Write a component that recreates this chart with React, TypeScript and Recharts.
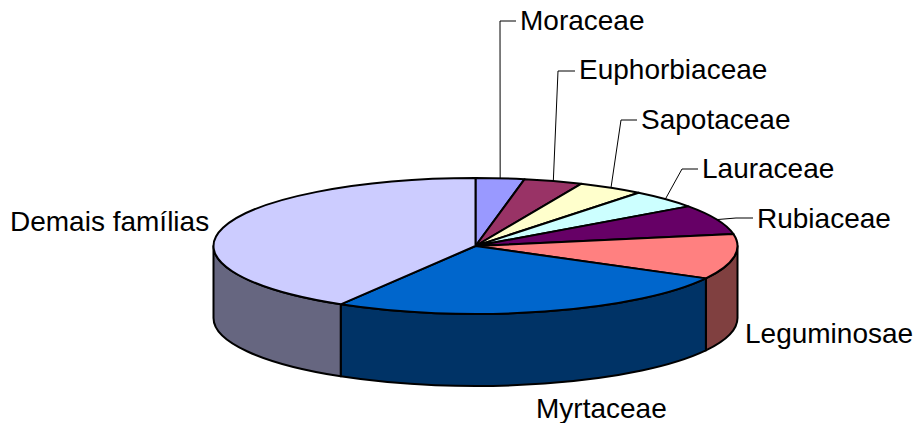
import { PieChart, Pie } from 'recharts';

const families = ['Moraceae', 'Euphorbiaceae', 'Sapotaceae', 'Lauraceae', 'Rubiaceae', 'Leguminosae', 'Myrtaceae', 'Demais famílias'];
const shares = [3.0, 3.6, 4.1, 4.4, 7.1, 10.7, 25.7, 41.4];
const topColors = ['#9999FF', '#993366', '#FFFFCC', '#CCFFFF', '#660066', '#FF8080', '#0066CC', '#CCCCFF'];
const sideColors = ['#4D4D80', '#4D1A33', '#808066', '#668080', '#330033', '#804040', '#003366', '#666680'];

// text start, baseline and the elbow of the leader line (null: no leader)
const labelSpots: { x: number; y: number; elbow: number[] | null; tail?: number }[] = [
  { x: 520, y: 30, elbow: [500, 21], tail: 516 },
  { x: 579, y: 79, elbow: [558, 71], tail: 575 },
  { x: 641, y: 129, elbow: [621, 120], tail: 637 },
  { x: 702, y: 178, elbow: [682, 169], tail: 698 },
  { x: 757, y: 228, elbow: [736, 218], tail: 753 },
  { x: 745, y: 343, elbow: null },
  { x: 536, y: 418, elbow: null },
  { x: 10, y: 231, elbow: null },
];

const CX = 475.5;
const CY = 246;
const RX = 262;
const RY = 68;
const DEPTH = 72;

const tableData = families.map((name, i) => ({ name, value: shares[i], top: topColors[i], side: sideColors[i] }));

const pt = (deg: number, dy = 0) => {
  const r = (deg * Math.PI) / 180;
  return `${CX + RX * Math.cos(r)} ${CY + dy - RY * Math.sin(r)}`;
};

function TopFace(props: any) {
  const { startAngle: s, endAngle: e, payload } = props;
  const large = s - e > 180 ? 1 : 0;
  const d = `M ${CX} ${CY} L ${pt(s)} A ${RX} ${RY} 0 ${large} 1 ${pt(e)} Z`;
  return <path d={d} fill={payload.top} stroke="#000" strokeWidth={2} strokeLinejoin="round" />;
}

function SideWall(props: any) {
  const { startAngle, endAngle, payload } = props;
  // only the front half of the rim shows
  const s = Math.min(startAngle, 0);
  const e = Math.max(endAngle, -180);
  if (s <= e) return <g />;
  const d = `M ${pt(s)} A ${RX} ${RY} 0 0 1 ${pt(e)} L ${pt(e, DEPTH)} A ${RX} ${RY} 0 0 0 ${pt(s, DEPTH)} Z`;
  return <path d={d} fill={payload.side} stroke="#000" strokeWidth={2} strokeLinejoin="round" />;
}

function FamilyLabel(props: any) {
  const { index, midAngle, name } = props;
  const spot = labelSpots[index];
  const start = pt(midAngle);
  return (
    <g>
      {spot.elbow && (
        <polyline
          points={`${start} ${spot.elbow[0]} ${spot.elbow[1]} ${spot.tail} ${spot.elbow[1]}`}
          fill="none"
          stroke="#000"
          strokeWidth={1}
        />
      )}
      <text x={spot.x} y={spot.y} fontFamily="'Liberation Sans', Arial, sans-serif" fontSize={28} fill="#000">
        {name}
      </text>
    </g>
  );
}

export default function App() {
  return (
    <div style={{ position: 'absolute', left: 0, top: 0, width: 916, height: 423, background: '#fff' }}>
      <PieChart width={916} height={423} margin={{ top: 0, right: 0, bottom: 0, left: 0 }}>
        <Pie
          data={tableData}
          dataKey="value"
          nameKey="name"
          cx={CX}
          cy={CY}
          outerRadius={RX}
          startAngle={90}
          endAngle={-270}
          shape={SideWall}
          isAnimationActive={false}
        />
        <Pie
          data={tableData}
          dataKey="value"
          nameKey="name"
          cx={CX}
          cy={CY}
          outerRadius={RX}
          startAngle={90}
          endAngle={-270}
          shape={TopFace}
          label={FamilyLabel}
          labelLine={false}
          isAnimationActive={false}
        />
      </PieChart>
    </div>
  );
}
